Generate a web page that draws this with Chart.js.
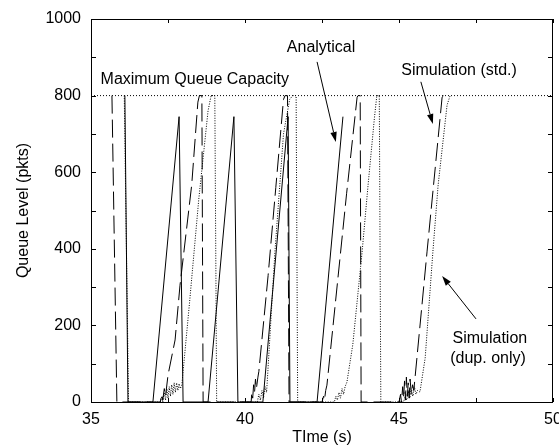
<!DOCTYPE html>
<html><head><meta charset="utf-8">
<script src="https://cdn.jsdelivr.net/npm/chart.js@4.4.0/dist/chart.umd.min.js"></script>
<style>html,body{margin:0;padding:0;background:#fff;}canvas{display:block;}</style>
</head><body>
<canvas id="c" width="559" height="447" style="width:559px;height:447px"></canvas>
<script>
// ---- data ----
const xTickLabels = [35, 40, 45, 50];
const yTickLabels = [0, 200, 400, 600, 800, 1000];
const xTickMarks = [35, 37.5, 40, 42.5, 45, 47.5, 50];
const yTickMarks = [0,100,200,300,400,500,600,700,800,900,1000];
const capacity = 800;

const analyticalTime  = [36.10,36.20,37.01,37.86,37.99,38.80,39.64,39.77,40.58,41.40,41.46,42.34,43.18];
const analyticalQueue = [800,0,0,745,0,0,745,0,0,745,0,0,745];

const simStdTime = [35.68,35.84,37.25,37.30,37.33,37.38,37.42,37.50,37.73,37.89,38.27,38.47,38.52,38.60,38.64,
  40.20,40.22,40.25,40.28,40.31,40.34,40.37,40.42,40.45,40.75,41.00,41.25,41.30,41.38,41.43,
  42.50,42.55,42.58,42.62,42.66,43.00,43.30,43.64,43.67,43.74,43.77,
  45.00,45.05,45.08,45.12,45.15,45.18,45.21,45.24,45.27,45.30,45.33,45.36,45.40,45.44,45.48,45.52,45.91,46.40,46.45];
const simStdQueue = [800,0,0,20,5,35,15,70,162,305,567,783,800,800,0,
  0,25,10,45,25,60,35,65,80,330,560,790,800,800,0,
  0,15,5,30,44,310,545,796,800,800,0,
  0,20,0,40,10,55,5,65,15,50,10,60,20,45,30,63,392,796,800];

const simDupTime = [36.08,36.22,37.25,37.30,37.33,37.38,37.42,37.46,37.50,37.54,37.58,37.62,37.66,37.70,37.74,37.78,37.82,37.86,37.90,37.95,38.20,38.50,38.80,38.90,39.02,39.08,
  40.40,40.45,40.50,40.55,40.60,40.65,40.70,40.72,40.97,41.25,41.45,41.55,41.66,41.71,
  42.90,42.95,43.00,43.05,43.10,43.15,43.20,43.25,43.31,43.50,43.80,44.00,44.20,44.28,44.36,44.41,
  45.15,45.20,45.25,45.30,45.35,45.40,45.45,45.50,45.55,45.60,45.68,45.85,46.10,46.27,46.56,46.66];
const simDupQueue = [800,0,0,15,0,25,5,35,10,40,15,45,20,50,25,50,30,48,35,45,260,530,760,800,800,0,
  0,20,5,30,10,40,25,50,390,700,790,800,800,0,
  0,15,5,25,10,35,20,40,52,150,390,570,740,800,800,0,
  0,15,5,30,10,35,15,40,20,30,26,115,392,566,775,800];

const pts = (t, q) => t.map((v, i) => ({x: v, y: q[i]}));
const FONT = "'Liberation Sans', Arial, Helvetica, sans-serif";

const frame = {
  id: 'frame',
  afterDraw(chart) {
    const {ctx, chartArea: a, scales: {x, y}} = chart;
    ctx.save();
    ctx.strokeStyle = '#000';
    ctx.lineWidth = 1;
    ctx.beginPath();
    xTickMarks.forEach(v => {
      const px = Math.round(x.getPixelForValue(v)) + 0.5;
      ctx.moveTo(px, a.bottom); ctx.lineTo(px, a.bottom - 4);
      ctx.moveTo(px, a.top); ctx.lineTo(px, a.top + 4);
    });
    yTickMarks.forEach(v => {
      const py = Math.round(y.getPixelForValue(v)) + 0.5;
      ctx.moveTo(a.left, py); ctx.lineTo(a.left + 5, py);
      ctx.moveTo(a.right, py); ctx.lineTo(a.right - 5, py);
    });
    ctx.stroke();
    ctx.strokeRect(a.left + 0.5, a.top + 0.5, a.right - a.left - 1, a.bottom - a.top);

    // annotations (anchored in data coordinates)
    ctx.fillStyle = '#000';
    ctx.font = '16px ' + FONT;
    ctx.textBaseline = 'alphabetic';
    const X = v => x.getPixelForValue(v), Y = v => y.getPixelForValue(v);
    ctx.textAlign = 'left';
    ctx.fillText('Maximum Queue Capacity', X(35.31), Y(830));
    ctx.textAlign = 'center';
    ctx.fillText('Analytical', X(42.47), Y(914));
    ctx.fillText('Simulation (std.)', X(46.95), Y(854));
    ctx.fillText('Simulation', X(47.95), Y(154));
    ctx.fillText('(dup. only)', X(47.89), Y(102));

    const arrow = (t0, q0, t1, q1) => {
      const x0 = X(t0), y0 = Y(q0), x1 = X(t1), y1 = Y(q1);
      const ang = Math.atan2(y1 - y0, x1 - x0);
      const L = 10, W = 3.2;
      const bx = x1 - L * Math.cos(ang), by = y1 - L * Math.sin(ang);
      ctx.beginPath(); ctx.moveTo(x0, y0); ctx.lineTo(bx, by); ctx.stroke();
      ctx.beginPath();
      ctx.moveTo(x1, y1);
      ctx.lineTo(bx + W * Math.sin(ang), by - W * Math.cos(ang));
      ctx.lineTo(bx - W * Math.sin(ang), by + W * Math.cos(ang));
      ctx.closePath(); ctx.fill();
    };
    arrow(42.34, 888, 42.95, 679);
    arrow(45.71, 836, 46.10, 726);
    arrow(47.50, 217, 46.40, 329);
    ctx.restore();
  }
};

new Chart(document.getElementById('c'), {
  type: 'scatter',
  data: {
    datasets: [
      {label: 'Maximum Queue Capacity', data: [{x: 35, y: capacity}, {x: 50, y: capacity}],
       showLine: true, borderColor: '#000', borderWidth: 1, borderDash: [1, 2], pointRadius: 0},
      {label: 'Analytical', data: pts(analyticalTime, analyticalQueue),
       showLine: true, borderColor: '#000', borderWidth: 1, pointRadius: 0, tension: 0},
      {label: 'Simulation (std.)', data: pts(simStdTime, simStdQueue),
       showLine: true, borderColor: '#000', borderWidth: 1, borderDash: [18, 6], pointRadius: 0, tension: 0},
      {label: 'Simulation (dup. only)', data: pts(simDupTime, simDupQueue),
       showLine: true, borderColor: '#000', borderWidth: 1, borderDash: [1, 1.5], pointRadius: 0, tension: 0}
    ]
  },
  options: {
    responsive: false,
    animation: false,
    devicePixelRatio: 1,
    layout: {padding: {left: 0, right: 6, top: 19, bottom: 0}},
    plugins: {legend: {display: false}, tooltip: {enabled: false}},
    scales: {
      x: {
        type: 'linear', min: 35, max: 50,
        grid: {display: false, drawTicks: false}, border: {display: false},
        afterBuildTicks: s => { s.ticks = xTickLabels.map(v => ({value: v})); },
        ticks: {color: '#000', font: {family: FONT, size: 16}, padding: 8, maxRotation: 0, autoSkip: false,
                callback: v => String(v)},
        title: {display: true, text: 'TIme (s)', color: '#000', font: {family: FONT, size: 16}, padding: {top: 0, bottom: 0}},
        afterFit: s => { s.height = 45; s.paddingLeft = 0; s.paddingRight = 0; }
      },
      y: {
        type: 'linear', min: 0, max: 1000,
        grid: {display: false, drawTicks: false}, border: {display: false},
        afterBuildTicks: s => { s.ticks = yTickLabels.map(v => ({value: v})); },
        ticks: {color: '#000', font: {family: FONT, size: 16}, padding: 10, autoSkip: false,
                callback: v => String(v)},
        title: {display: true, text: 'Queue Level (pkts)', color: '#000', font: {family: FONT, size: 16}, padding: {top: 14, bottom: 0}},
        afterFit: s => { s.width = 91; s.paddingTop = 0; s.paddingBottom = 0; }
      }
    }
  },
  plugins: [frame]
});
</script>
</body></html>
